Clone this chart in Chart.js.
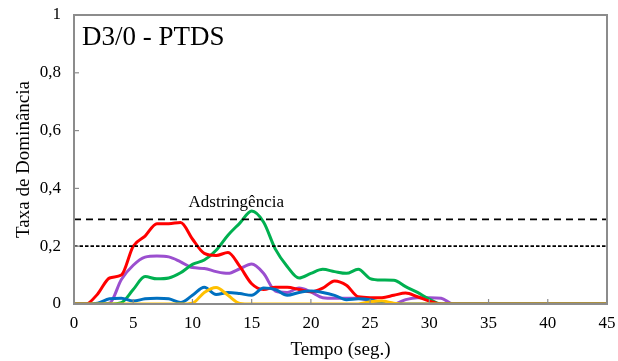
<!DOCTYPE html>
<html><head><meta charset="utf-8">
<script src="https://cdn.jsdelivr.net/npm/chart.js@4"></script>
<style>html,body{margin:0;padding:0;background:#fff}#wrap{width:618px;height:361px}</style>
</head><body><div id="wrap"><canvas id="c" width="618" height="361"></canvas></div>
<script>
const times = [0,1,2,3,4,5,6,7,8,9,10,11,12,13,14,15,16,17,18,19,20,21,22,23,24,25,26,27,28,29,30,31,32,33,34,35,36,37,38,39,40,41,42,43,44,45];
const red    = [0,0,0.035,0.09,0.1,0.2,0.235,0.278,0.278,0.282,0.225,0.175,0.168,0.178,0.13,0.07,0.05,0.058,0.058,0.05,0.042,0.055,0.08,0.065,0.025,0.022,0.022,0.03,0.038,0.025,0.01,0,0,0,0,0,0,0,0,0,0,0,0,0,0,0];
const green  = [0,0,0,0,0.005,0.05,0.095,0.087,0.09,0.108,0.137,0.152,0.186,0.238,0.28,0.322,0.284,0.19,0.13,0.09,0.106,0.12,0.112,0.106,0.12,0.088,0.083,0.082,0.06,0.04,0.017,0,0,0,0,0,0,0,0,0,0,0,0,0,0,0];
const purple = [0,0,0,0.003,0.085,0.134,0.162,0.166,0.163,0.146,0.126,0.123,0.112,0.106,0.122,0.138,0.106,0.045,0.04,0.055,0.042,0.022,0.02,0.02,0.02,0.01,0,0,0.015,0.022,0.022,0.02,0,0,0,0,0,0,0,0,0,0,0,0,0,0];
const blue   = [0,0,0.003,0.018,0.02,0.01,0.018,0.02,0.018,0.005,0.03,0.058,0.033,0.04,0.036,0.03,0.055,0.05,0.03,0.04,0.045,0.04,0.03,0.015,0.018,0.015,0.005,0,0,0,0,0,0,0,0,0,0,0,0,0,0,0,0,0,0,0];
const yellow = [0,0,0,0,0,0,0,0,0,0,0.003,0.04,0.057,0.03,0.002,0,0,0,0,0,0,0,0,0,0,0.008,0.01,0.003,0,0,0,0,0,0,0,0,0,0,0,0,0,0,0,0,0,0];
const limits = [0.293, 0.2];
const xTicks = [0,5,10,15,20,25,30,35,40,45];
const yTicks = [0,0.2,0.4,0.6,0.8,1];
const title = "D3/0 - PTDS";
const attrLabel = "Adstringência";
const xTitle = "Tempo (seg.)";
const yTitle = "Taxa de Dominância";

const pts = arr => arr.map((v,i)=>({x:times[i], y:v}));
const serie = (arr,color)=>({data:pts(arr),borderColor:color,borderWidth:3,pointRadius:0,tension:0.4,cubicInterpolationMode:'monotone',fill:false});
const hline = (v,dash)=>({data:[{x:0,y:v},{x:45,y:v}],borderColor:'#000',borderWidth:1.8,borderDash:dash,pointRadius:0,fill:false});

const serif = "'Liberation Serif','Times New Roman',serif";

const decor = {
  id:'decor',
  afterDraw(chart){
    const {ctx, chartArea:a, scales:{x,y}} = chart;
    ctx.save();
    ctx.strokeStyle='#8c8c8c'; ctx.lineWidth=2;
    ctx.strokeRect(a.left, a.top, a.right-a.left, a.bottom-a.top);
    ctx.lineWidth=1.2;
    xTicks.forEach(t=>{const px=x.getPixelForValue(t);ctx.beginPath();ctx.moveTo(px,a.bottom);ctx.lineTo(px,a.bottom-5);ctx.stroke();});
    yTicks.forEach(t=>{const py=y.getPixelForValue(t);ctx.beginPath();ctx.moveTo(a.left,py);ctx.lineTo(a.left+5,py);ctx.stroke();});
    ctx.fillStyle='#000';
    ctx.font="27px "+serif; ctx.textAlign='left'; ctx.textBaseline='middle';
    ctx.fillText(title, a.left+8, y.getPixelForValue(0.922));
    ctx.font="17px "+serif; ctx.textAlign='center'; ctx.textBaseline='alphabetic';
    ctx.fillText(attrLabel, x.getPixelForValue(13.7), y.getPixelForValue(limits[0])-12);
    ctx.restore();
  }
};

new Chart(document.getElementById('c'), {
  type:'line',
  data:{datasets:[
    hline(limits[0],[7,5]),
    hline(limits[1],[3.5,2]),
    serie(yellow,'#FFC000'),
    serie(blue,'#0070C0'),
    serie(red,'#FF0000'),
    serie(green,'#00B050'),
    serie(purple,'#9B4FCF')
  ]},
  options:{
    responsive:false, animation:false,
    layout:{padding:{top:15,right:11,left:0,bottom:0}},
    plugins:{legend:{display:false},tooltip:{enabled:false}},
    scales:{
      x:{type:'linear',min:0,max:45,
        afterBuildTicks(s){s.ticks=xTicks.map(v=>({value:v}));},
        grid:{display:false,drawTicks:false},border:{display:false},
        ticks:{color:'#000',font:{family:serif,size:17},padding:9,maxRotation:0},
        title:{display:true,text:xTitle,color:'#000',font:{family:serif,size:19},padding:{top:3,bottom:0}},
        afterFit(s){s.height=57;s.paddingLeft=0;s.paddingRight=0;}
      },
      y:{min:0,max:1,
        afterBuildTicks(s){s.ticks=yTicks.map(v=>({value:v}));},
        grid:{display:false,drawTicks:false},border:{display:false},
        ticks:{color:'#000',font:{family:serif,size:17},padding:13,callback:v=>String(v).replace('.',',')},
        title:{display:true,text:yTitle,color:'#000',font:{family:serif,size:19},padding:{top:13,bottom:0}},
        afterFit(s){s.width=74;s.paddingTop=0;s.paddingBottom=0;}
      }
    }
  },
  plugins:[decor]
});
</script></body></html>
